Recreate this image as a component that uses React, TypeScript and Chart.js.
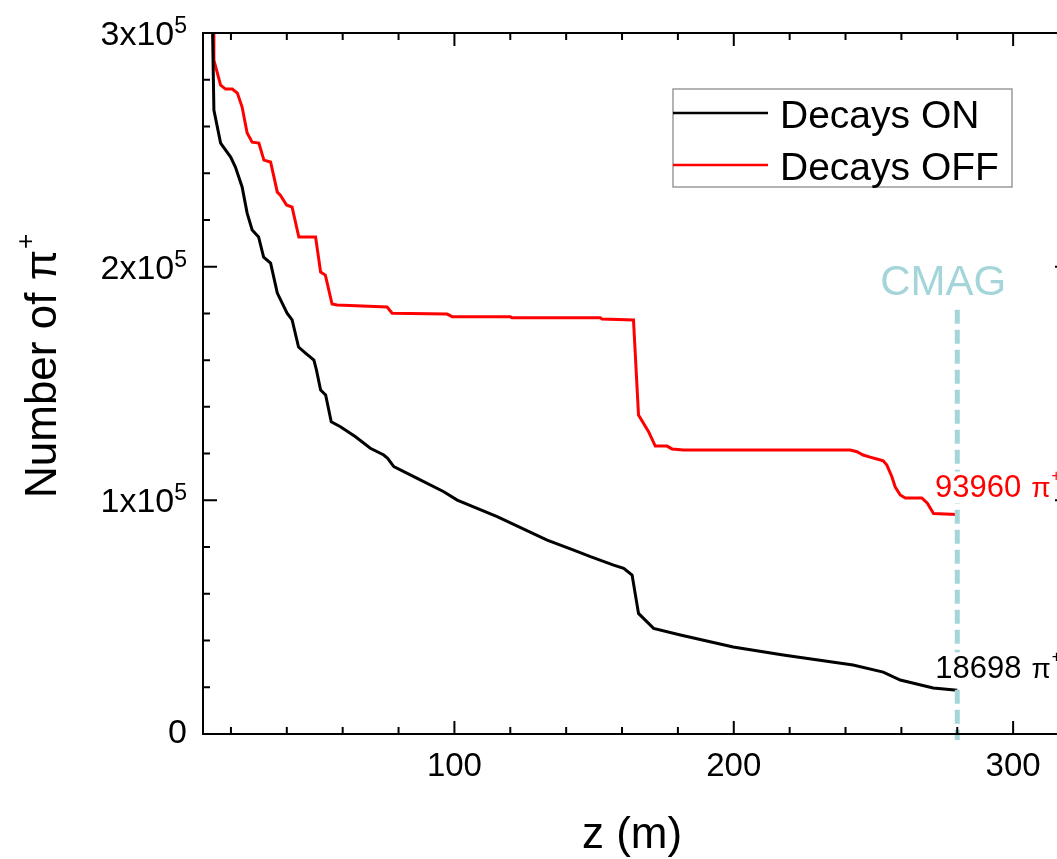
import React, { useEffect, useRef } from 'react';
import { Chart, registerables } from 'chart.js';

Chart.register(...registerables);

// ---------- data ----------
const SERIES_LABELS = ['Decays ON', 'Decays OFF'];
const SERIES_COLORS = ['#000000', '#ff0000'];

const ON_Z = [13.3, 13.9, 16.3, 19.9, 21.6, 24.0, 25.8, 27.6, 29.9, 31.7, 34.2, 36.6, 40.1, 41.9, 44.2, 46.7, 49.7, 50.6, 52.1, 53.9, 55.9, 59.2, 64.6, 69.9, 74.7, 76.1, 78.3, 86.7, 96.2, 101.0, 115.3, 133.2, 142.7, 148.7, 157.0, 160.6, 163.6, 165.9, 171.3, 180.9, 199.8, 217.7, 242.7, 253.5, 259.6, 271.4, 280.0];
const ON_N = [310000, 267000, 252900, 246900, 242600, 234100, 222900, 215700, 212700, 204100, 201500, 188700, 180100, 177200, 165600, 163000, 160000, 155800, 147200, 145100, 133600, 131500, 127200, 122300, 119400, 118000, 114400, 109400, 103700, 100100, 93000, 83000, 78700, 75900, 72300, 70900, 68000, 51600, 45200, 42400, 37200, 33800, 29500, 26500, 23100, 19700, 18698];

const OFF_Z = [13.9, 13.9, 16.3, 18.1, 20.5, 22.3, 24.0, 25.8, 27.6, 30.0, 31.8, 34.2, 36.6, 37.7, 39.9, 41.9, 44.3, 50.3, 52.1, 53.8, 56.2, 58.0, 75.9, 77.7, 97.4, 99.2, 120.0, 120.6, 152.2, 152.8, 164.1, 165.9, 169.5, 171.9, 176.1, 177.9, 182.0, 241.7, 244.1, 246.3, 248.8, 251.2, 253.5, 254.8, 256.6, 257.8, 259.6, 261.4, 267.3, 269.3, 271.5, 279.9];
const OFF_N = [310000, 288400, 277700, 276000, 276000, 274300, 268300, 257200, 253300, 252900, 245600, 244800, 231900, 230600, 226400, 225500, 212700, 212700, 197700, 196400, 184000, 183600, 182700, 180100, 179700, 178600, 178600, 178100, 178100, 177600, 177200, 136500, 129400, 123200, 123200, 122000, 121500, 121500, 120800, 119400, 118500, 117700, 116900, 115100, 110100, 105700, 102300, 101000, 101000, 98800, 94400, 93960];

const X_MIN = 10;
const X_MAX = 320;
const Y_MIN = 0;
const Y_MAX = 300000;
const X_MAJOR = [100, 200, 300];
const X_MAJOR_LABELS = ['100', '200', '300'];
const X_MINOR = [20, 40, 60, 80, 120, 140, 160, 180, 220, 240, 260, 280, 320];
const Y_MAJOR = [0, 100000, 200000, 300000];
const Y_MAJOR_BASES = ['0', '1x10', '2x10', '3x10'];
const Y_MAJOR_EXPS = ['', '5', '5', '5'];
const Y_MINOR = [20000, 40000, 60000, 80000, 120000, 140000, 160000, 180000, 220000, 240000, 260000, 280000];

const CMAG_Z = 280;
const CMAG_TEXT = 'CMAG';
const CMAG_TEXT_N = 188000;
const END_LABELS = ['18698', '93960'];
const X_TITLE = 'z (m)';
const Y_TITLE = 'Number of π';

const FONT = '"Liberation Sans", Arial, Helvetica, sans-serif';
const CMAG_COLOR = '#a4d5d9';

const drawPlugin = {
  id: 'sciFrame',
  afterDraw(chart: any) {
    const ctx = chart.ctx as CanvasRenderingContext2D;
    const { left, right, top, bottom } = chart.chartArea;
    const xs = chart.scales.x;
    const ys = chart.scales.y;
    ctx.save();

    // CMAG dashed line
    const cx = xs.getPixelForValue(CMAG_Z);
    const cmagBase = ys.getPixelForValue(CMAG_TEXT_N);
    ctx.strokeStyle = CMAG_COLOR;
    ctx.lineWidth = 5;
    ctx.setLineDash([14, 6]);
    ctx.beginPath();
    ctx.moveTo(cx, cmagBase + 15);
    ctx.lineTo(cx, bottom + 6);
    ctx.stroke();
    ctx.setLineDash([]);

    ctx.fillStyle = CMAG_COLOR;
    ctx.font = `42px ${FONT}`;
    ctx.textAlign = 'center';
    ctx.textBaseline = 'alphabetic';
    ctx.fillText(CMAG_TEXT, cx - 14, cmagBase);

    // end labels
    const ends = [
      { z: ON_Z[ON_Z.length - 1], n: ON_N[ON_N.length - 1], off: 12 },
      { z: OFF_Z[OFF_Z.length - 1], n: OFF_N[OFF_N.length - 1], off: 17 },
    ];
    ends.forEach((e, i) => {
      const px = xs.getPixelForValue(e.z) - 22;
      const py = ys.getPixelForValue(e.n) - e.off;
      ctx.font = `31px ${FONT}`;
      ctx.textAlign = 'left';
      const txt = END_LABELS[i];
      const w = ctx.measureText(txt).width;
      ctx.fillStyle = '#ffffff';
      ctx.fillRect(px - 2, py - 26, w + 34, 32);
      ctx.fillStyle = SERIES_COLORS[i];
      ctx.fillText(txt, px, py);
      ctx.font = `28px ${FONT}`;
      ctx.fillText('π', px + w + 10, py);
      const pw = ctx.measureText('π').width;
      ctx.font = `16px ${FONT}`;
      ctx.fillText('+', px + w + 11 + pw, py - 16);
    });

    // frame
    ctx.strokeStyle = '#000';
    ctx.lineWidth = 2;
    ctx.beginPath();
    ctx.rect(left, top, right - left, bottom - top);
    ctx.stroke();

    // ticks (inward)
    ctx.beginPath();
    const xt = (v: number, len: number) => {
      const p = xs.getPixelForValue(v);
      ctx.moveTo(p, bottom);
      ctx.lineTo(p, bottom - len);
      ctx.moveTo(p, top);
      ctx.lineTo(p, top + len);
    };
    const yt = (v: number, len: number) => {
      const p = ys.getPixelForValue(v);
      ctx.moveTo(left, p);
      ctx.lineTo(left + len, p);
      ctx.moveTo(right, p);
      ctx.lineTo(right - len, p);
    };
    X_MAJOR.forEach((v) => xt(v, 13));
    X_MINOR.forEach((v) => xt(v, 7));
    Y_MAJOR.forEach((v) => yt(v, 14));
    Y_MINOR.forEach((v) => yt(v, 7));
    ctx.stroke();

    // x tick labels
    ctx.fillStyle = '#000';
    ctx.font = `33px ${FONT}`;
    ctx.textAlign = 'center';
    X_MAJOR.forEach((v, i) => {
      ctx.fillText(X_MAJOR_LABELS[i], xs.getPixelForValue(v), bottom + 42);
    });

    // y tick labels
    const labelRight = left - 16;
    Y_MAJOR.forEach((v, i) => {
      const p = ys.getPixelForValue(v);
      const base = Y_MAJOR_BASES[i];
      const exp = Y_MAJOR_EXPS[i];
      ctx.textAlign = 'right';
      if (!exp) {
        ctx.font = `34px ${FONT}`;
        ctx.fillText(base, labelRight, p + 9);
      } else {
        ctx.font = `23px ${FONT}`;
        const ew = ctx.measureText(exp).width;
        ctx.fillText(exp, labelRight, p);
        ctx.font = `34px ${FONT}`;
        ctx.fillText(base, labelRight - ew, p + 12);
      }
    });

    // x title
    ctx.font = `44px ${FONT}`;
    ctx.textAlign = 'center';
    ctx.fillText(X_TITLE, (left + right) / 2 - 4, bottom + 114);

    // y title
    ctx.save();
    ctx.translate(56, 498);
    ctx.rotate(-Math.PI / 2);
    ctx.textAlign = 'left';
    ctx.font = `44px ${FONT}`;
    ctx.fillText(Y_TITLE, 0, 0);
    const tw = ctx.measureText(Y_TITLE).width;
    ctx.font = `26px ${FONT}`;
    ctx.fillText('+', tw + 1, -22);
    ctx.restore();

    // legend
    const lx = left + 470;
    const ly = top + 56;
    const lw = 339;
    const lh = 98;
    ctx.fillStyle = '#fff';
    ctx.fillRect(lx, ly, lw, lh);
    ctx.strokeStyle = '#9a9a9a';
    ctx.lineWidth = 1.5;
    ctx.strokeRect(lx, ly, lw, lh);
    chart.data.datasets.forEach((ds: any, i: number) => {
      const yy = ly + 24 + i * 52;
      ctx.strokeStyle = ds.borderColor;
      ctx.lineWidth = 2.5;
      ctx.beginPath();
      ctx.moveTo(lx, yy);
      ctx.lineTo(lx + 95, yy);
      ctx.stroke();
      ctx.fillStyle = '#000';
      ctx.font = `39px ${FONT}`;
      ctx.textAlign = 'left';
      ctx.fillText(ds.label, lx + 107, yy + 15);
    });

    ctx.restore();
  },
};

export default function App() {
  const ref = useRef<HTMLCanvasElement | null>(null);

  useEffect(() => {
    if (!ref.current) return;
    const chart = new Chart(ref.current, {
      type: 'line',
      data: {
        datasets: [
          {
            label: SERIES_LABELS[0],
            data: ON_Z.map((z, i) => ({ x: z, y: ON_N[i] })),
            borderColor: SERIES_COLORS[0],
            borderWidth: 3,
            pointRadius: 0,
            tension: 0,
          },
          {
            label: SERIES_LABELS[1],
            data: OFF_Z.map((z, i) => ({ x: z, y: OFF_N[i] })),
            borderColor: SERIES_COLORS[1],
            borderWidth: 3,
            pointRadius: 0,
            tension: 0,
          },
        ],
      },
      options: {
        animation: false,
        responsive: true,
        maintainAspectRatio: false,
        layout: { padding: { left: 0, top: 33, right: 11, bottom: 0 } },
        plugins: {
          legend: { display: false },
          tooltip: { enabled: false },
        },
        scales: {
          x: {
            type: 'linear',
            min: X_MIN,
            max: X_MAX,
            grid: { display: false },
            border: { display: false },
            ticks: { display: false },
            afterFit: (s: any) => {
              s.height = 125;
            },
          },
          y: {
            type: 'linear',
            min: Y_MIN,
            max: Y_MAX,
            grid: { display: false },
            border: { display: false },
            ticks: { display: false },
            afterFit: (s: any) => {
              s.width = 203;
            },
          },
        },
      },
      plugins: [drawPlugin],
    } as any);
    return () => chart.destroy();
  }, []);

  return (
    <div style={{ position: 'fixed', left: 0, top: 0, width: '100vw', height: '100vh', overflow: 'hidden', background: '#fff' }}>
      <div style={{ position: 'absolute', left: 0, top: 0, width: 1080, height: 859 }}>
        <canvas ref={ref} />
      </div>
    </div>
  );
}
